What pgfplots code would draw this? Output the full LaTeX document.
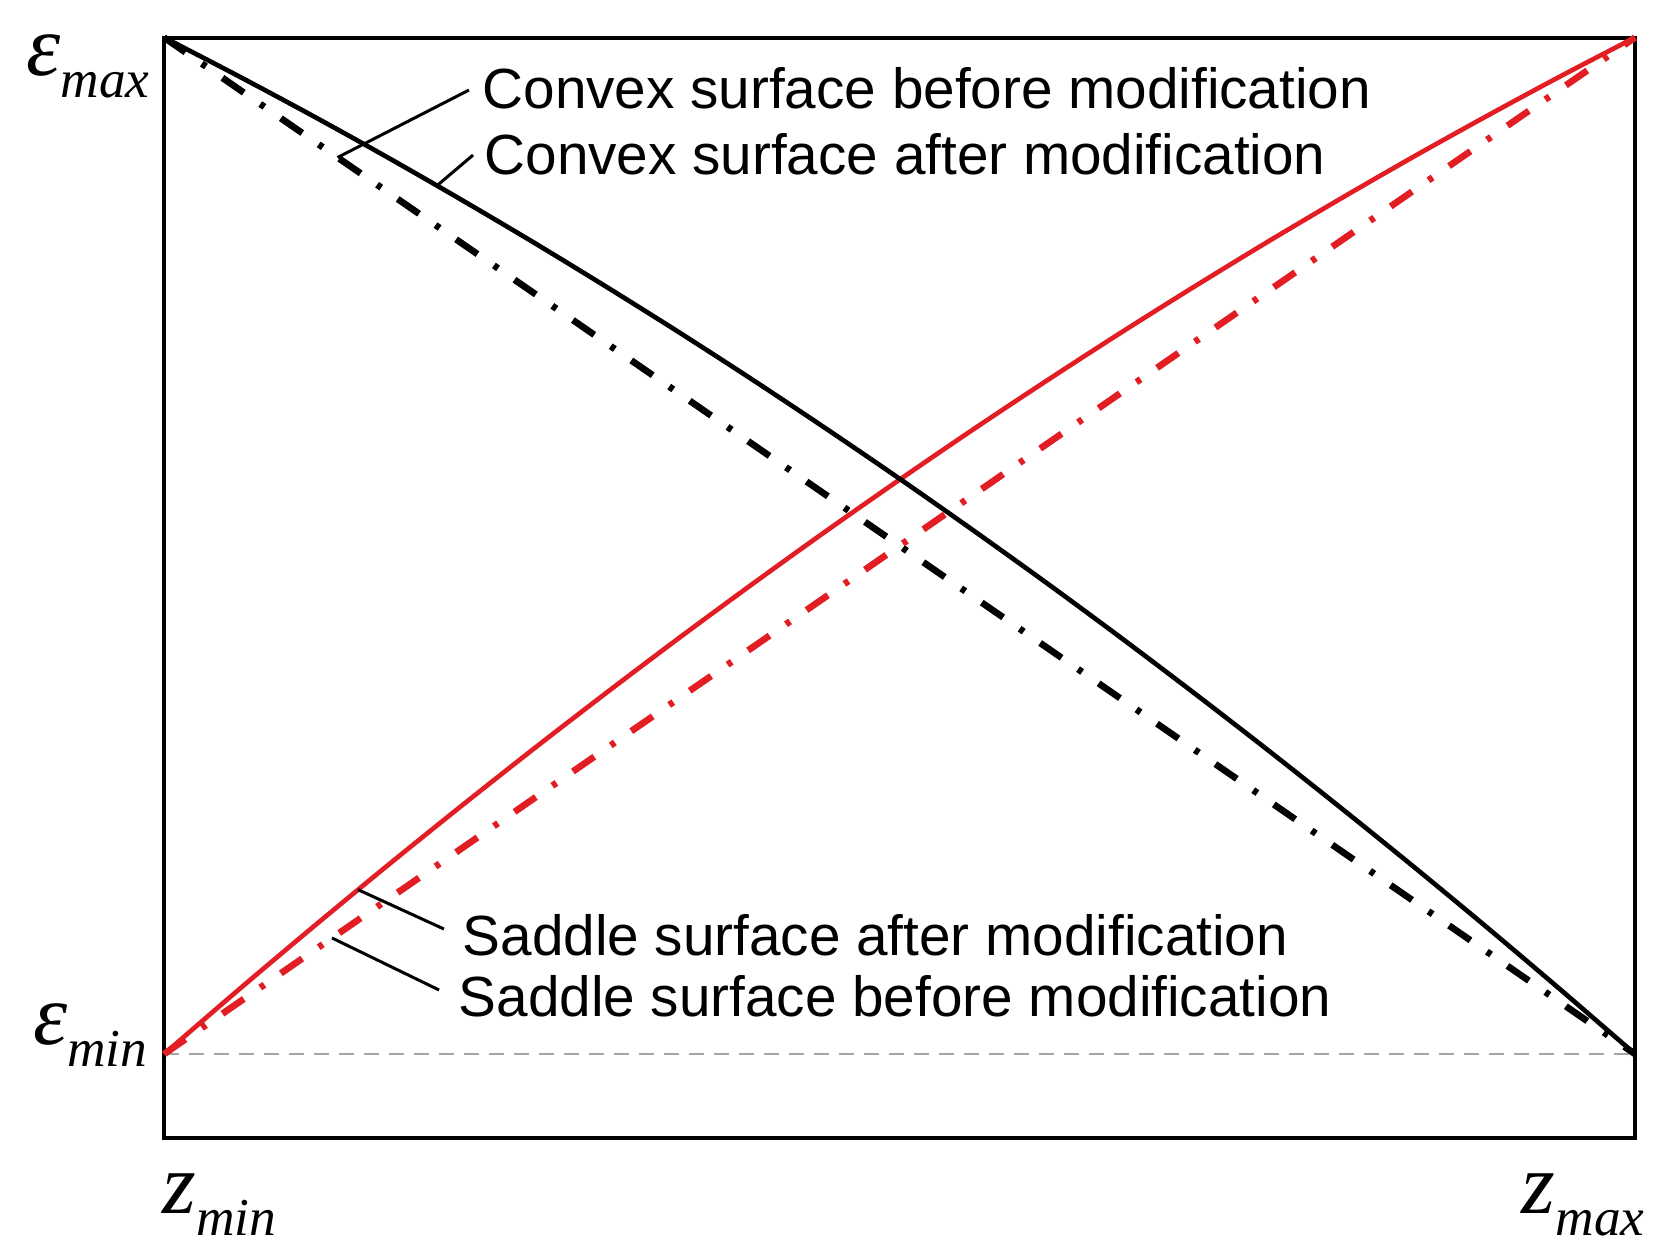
\documentclass[border=0pt]{standalone}
\usepackage{fontspec}
\setmainfont{Liberation Sans}
\newfontfamily\serif{Liberation Serif}
\usepackage{pgfplots}
\pgfplotsset{compat=1.18}

\definecolor{curvered}{RGB}{226,30,36}

\pgfplotstableread{
x y
0 1
0.05 0.9625
0.1 0.9238
0.15 0.8837
0.2 0.8422
0.25 0.7995
0.3 0.7554
0.35 0.7101
0.4 0.6634
0.45 0.6153
0.5 0.566
0.55 0.5153
0.6 0.4634
0.65 0.4101
0.7 0.3554
0.75 0.2995
0.8 0.2422
0.85 0.1837
0.9 0.1238
0.95 0.0625
1 0
}\convexafter

\pgfplotstableread{
x y
0 0
0.05 0.0624
0.1 0.1234
0.15 0.1832
0.2 0.2416
0.25 0.2988
0.3 0.3546
0.35 0.4092
0.4 0.4624
0.45 0.5144
0.5 0.565
0.55 0.6144
0.6 0.6624
0.65 0.7092
0.7 0.7546
0.75 0.7988
0.8 0.8416
0.85 0.8832
0.9 0.9234
0.95 0.9624
1 1
}\saddleafter

\newcommand{\lbl}[2]{{\serif\itshape\fontsize{26}{26}\selectfont #1}\raisebox{-6.6pt}{\serif\itshape\fontsize{16}{16}\selectfont #2}}

\begin{document}
\begin{tikzpicture}
\begin{axis}[
    scale only axis,
    width=441.3pt,
    height=330.15pt,
    xmin=0, xmax=1,
    ymin=-0.0826, ymax=1,
    xtick=\empty, ytick=\empty,
    axis line style={line width=1.2pt},
    clip=false,
]
% invisible frame so the page matches the reference
\path (axis cs:-0.1115,-0.1977) rectangle (axis cs:1.0292,1.0369);

% eps_min reference line
\addplot[gray!70, line width=0.45pt, dash pattern=on 4.5pt off 3pt] coordinates {(0,0) (1,0)};

% before modification (straight)
\addplot[black, line width=2pt, dash pattern=on 7.8pt off 6pt on 1.5pt off 6pt] coordinates {(0,1) (1,0)};
\addplot[curvered, line width=2pt, dash pattern=on 7.8pt off 6pt on 1.5pt off 6pt] coordinates {(0,0) (1,1)};

% after modification
\addplot[curvered, line width=1.4pt, smooth] table[x=x, y=y] {\saddleafter};
\addplot[black, line width=1.4pt, smooth] table[x=x, y=y] {\convexafter};

% leaders
\draw[line width=0.9pt] (axis cs:0.2073,0.9483) -- (axis cs:0.118,0.882);
\draw[line width=0.9pt] (axis cs:0.2101,0.8844) -- (axis cs:0.1856,0.8543);
\draw[line width=0.9pt] (axis cs:0.1903,0.1230) -- (axis cs:0.1319,0.1617);
\draw[line width=0.9pt] (axis cs:0.1870,0.0630) -- (axis cs:0.1142,0.1142);

% annotations
\node[anchor=base west, inner sep=0pt, font=\fontsize{17}{17}\selectfont] at (axis cs:0.2162,0.9297) {Convex surface before modification};
\node[anchor=base west, inner sep=0pt, font=\fontsize{17}{17}\selectfont] at (axis cs:0.2175,0.8657) {Convex surface after modification};
\node[anchor=base west, inner sep=0pt, font=\fontsize{17}{17}\selectfont] at (axis cs:0.2026,0.0974) {Saddle surface after modification};
\node[anchor=base west, inner sep=0pt, font=\fontsize{17}{17}\selectfont] at (axis cs:0.1999,0.0374) {Saddle surface before modification};

% axis end labels
\node[anchor=base east, inner sep=0pt] at (axis cs:-0.0095,0.9631) {\lbl{ε}{max}};
\node[anchor=base east, inner sep=0pt] at (axis cs:-0.011,0.0098) {\lbl{ε}{min}};
\node[anchor=base west, inner sep=0pt] at (axis cs:-0.0014,-0.1564) {\lbl{z}{min}};
\node[anchor=base east, inner sep=0pt] at (axis cs:1.0068,-0.1564) {\lbl{z}{max}};
\end{axis}
\end{tikzpicture}
\end{document}
